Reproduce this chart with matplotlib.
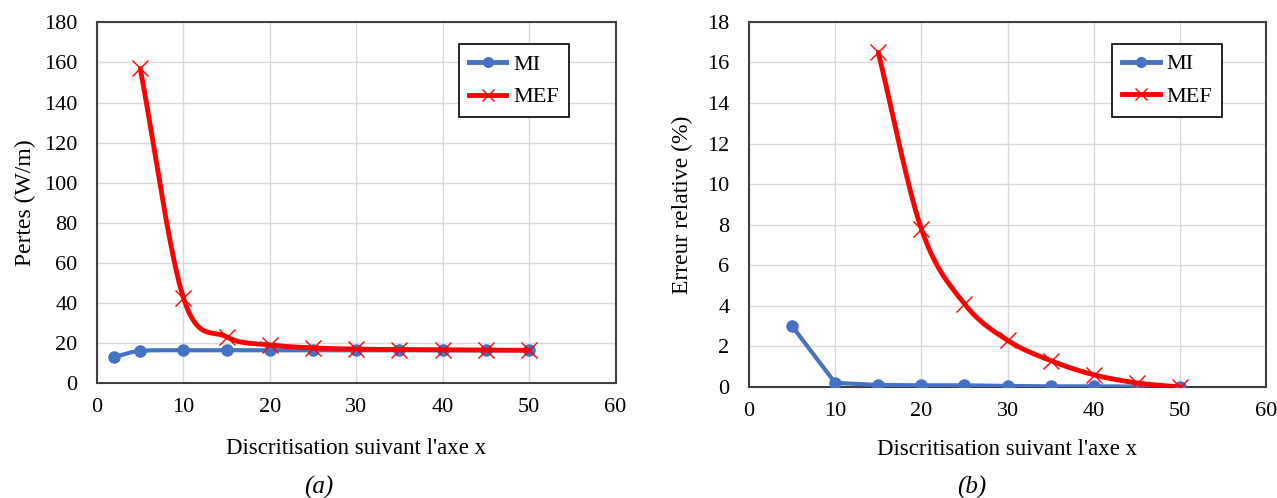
import numpy as np
from matplotlib import pyplot as plt

plt.rcParams['font.family'] = ['Liberation Serif', 'DejaVu Serif']

# (a) pertes
x_mi_a = [2, 5, 10, 15, 20, 25, 30, 35, 40, 45, 50]
mi_a = [13.0, 16.0, 16.3, 16.3, 16.3, 16.3, 16.3, 16.3, 16.3, 16.3, 16.3]
x_mef_a = [5, 10, 15, 20, 25, 30, 35, 40, 45, 50]
mef_a = [157.0, 42.5, 23.0, 19.0, 17.5, 16.9, 16.7, 16.5, 16.4, 16.3]

# (b) erreur relative
x_mi_b = [5, 10, 15, 20, 25, 30, 35, 40, 45, 50]
mi_b = [3.0, 0.2, 0.1, 0.08, 0.08, 0.05, 0.03, 0.03, 0.02, 0.0]
x_mef_b = [15, 20, 25, 30, 35, 40, 45, 50]
mef_b = [16.5, 7.8, 4.1, 2.3, 1.3, 0.6, 0.2, 0.0]

xticks = [0, 10, 20, 30, 40, 50, 60]


def smooth(x, y, n=30):
    # Catmull-Rom curve through the points (like the spreadsheet "smoothed line")
    x = np.asarray(x, float)
    y = np.asarray(y, float)
    px = np.concatenate([[2 * x[0] - x[1]], x, [2 * x[-1] - x[-2]]])
    py = np.concatenate([[2 * y[0] - y[1]], y, [2 * y[-1] - y[-2]]])
    xs, ys = [], []
    t = np.linspace(0, 1, n)
    for i in range(1, len(px) - 2):
        for p, out in ((px, xs), (py, ys)):
            p0, p1, p2, p3 = p[i - 1], p[i], p[i + 1], p[i + 2]
            out.extend(0.5 * (2 * p1 + (-p0 + p2) * t
                              + (2 * p0 - 5 * p1 + 4 * p2 - p3) * t ** 2
                              + (-p0 + 3 * p1 - 3 * p2 + p3) * t ** 3))
    return xs, ys


def draw(ax, xmi, ymi, xmef, ymef, ymax, ystep, ylabel, mi_smooth,
         ylab_x, xlab_y, leg_x):
    blue = '#4472C4'
    red = '#FF0000'
    if mi_smooth:
        sx, sy = smooth(xmi, ymi)
    else:
        sx, sy = xmi, ymi
    ax.plot(sx, sy, color=blue, lw=3, solid_capstyle='round', zorder=3)
    ax.plot(xmi, ymi, 'o', color=blue, ms=8, zorder=3)
    sx, sy = smooth(xmef, ymef)
    ax.plot(sx, sy, color=red, lw=3.5, solid_capstyle='round', zorder=4)
    ax.plot(xmef, ymef, 'x', color=red, ms=11, mew=1, zorder=4)
    # legend handles
    ax.plot([], [], color=blue, lw=3.5, marker='o', ms=7, label='MI')
    ax.plot([], [], color=red, lw=3.5, marker='x', ms=9, mew=1, label='MEF')
    ax.set_xlim(0, 60)
    ax.set_ylim(0, ymax)
    ax.set_xticks(xticks)
    ax.set_yticks(np.arange(0, ymax + ystep / 2, ystep))
    ax.grid(True, color='#D9D9D9', lw=1)
    ax.set_axisbelow(True)
    ax.tick_params(length=0, labelsize=16)
    ax.tick_params(axis='y', pad=14)
    ax.tick_params(axis='x', pad=11)
    for s in ax.spines.values():
        s.set_color('#404040')
        s.set_linewidth(1.5)
    ax.set_ylabel(ylabel, fontsize=17, va='center')
    ax.yaxis.set_label_coords(ylab_x, 0.5)
    ax.set_xlabel("Discritisation suivant l'axe x", fontsize=16.5, va='center')
    ax.xaxis.set_label_coords(0.5, xlab_y)
    leg = ax.legend(loc='upper right', bbox_to_anchor=(leg_x, 0.94), fontsize=16,
                    fancybox=False, edgecolor='black', handlelength=1.7,
                    handletextpad=0.3, labelspacing=0.55, borderpad=0.45,
                    borderaxespad=0, framealpha=1)
    leg.get_frame().set_linewidth(1.2)


fig = plt.figure(figsize=(12.77, 4.98), dpi=100)
ax1 = fig.add_axes([0.076, 0.231, 0.406, 0.724])
ax2 = fig.add_axes([0.5865, 0.223, 0.405, 0.733])

draw(ax1, x_mi_a, mi_a, x_mef_a, mef_a, 180, 20, 'Pertes (W/m)', True,
     -0.139, -0.183, 0.91)
draw(ax2, x_mi_b, mi_b, x_mef_b, mef_b, 18, 2, 'Erreur relative (%)', False,
     -0.128, -0.17, 0.915)

fig.text(319 / 1277, 1 - 487 / 498, '(a)', ha='center', va='center',
         fontsize=18, style='italic')
fig.text(972 / 1277, 1 - 487 / 498, '(b)', ha='center', va='center',
         fontsize=18, style='italic')

fig.savefig('out.png', dpi=100)
